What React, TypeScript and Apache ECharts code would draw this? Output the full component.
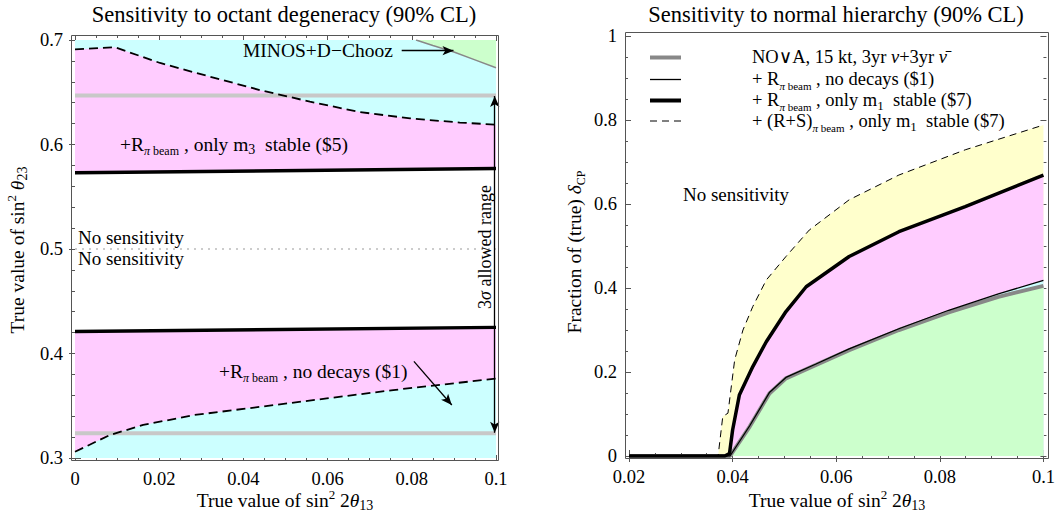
import React, { useEffect, useRef } from "react";
import * as echarts from "echarts";

// ---------- Left panel data: octant degeneracy ----------
const octUpperX = [0, 0.0095, 0.0202, 0.032, 0.044, 0.0558, 0.0677, 0.0796, 0.0914, 0.1];
const octUpperDashed = [0.691, 0.693, 0.678, 0.665, 0.652, 0.641, 0.631, 0.625, 0.621, 0.619];
const octLowerX = [0, 0.0083, 0.0162, 0.0281, 0.044, 0.0598, 0.0756, 0.1];
const octLowerDashed = [0.306, 0.322, 0.3316, 0.341, 0.349, 0.357, 0.365, 0.376];
const octLineX = [0, 0.1];
const octThickUpper = [0.573, 0.577];
const octThickLower = [0.421, 0.425];
const octGrayUpper = [0.647, 0.647];
const octGrayLower = [0.3236, 0.3236];
const octMaximal = [0.5, 0.5];
const octTop = [0.7, 0.7];
const minosX = [0.081, 0.085, 0.09, 0.095, 0.1];
const minosY = [0.7, 0.6948, 0.6885, 0.681, 0.6735];

// ---------- Right panel data: normal hierarchy ----------
const nhX = [0.02, 0.0395, 0.0433, 0.0471, 0.0503, 0.0561, 0.0625, 0.0721, 0.0817, 0.0913, 0.1];
const novaY = [0, 0, 0.07, 0.149, 0.185, 0.217, 0.252, 0.3, 0.342, 0.379, 0.405];
const noDecayY = [0, 0, 0.072, 0.151, 0.187, 0.219, 0.255, 0.303, 0.347, 0.386, 0.418];
const m1X = [0.02, 0.0385, 0.0394, 0.04, 0.0413, 0.0439, 0.0465, 0.0503, 0.0542, 0.0625, 0.0721, 0.0849, 0.1];
const m1Y = [0, 0, 0.006, 0.062, 0.145, 0.213, 0.272, 0.344, 0.403, 0.475, 0.534, 0.594, 0.669];
const rsX = [0.02, 0.0372, 0.0381, 0.0391, 0.0404, 0.042, 0.0439, 0.0465, 0.0503, 0.0548, 0.0625, 0.0721, 0.0849, 0.1];
const rsY = [0, 0, 0.094, 0.102, 0.229, 0.3, 0.356, 0.419, 0.475, 0.538, 0.61, 0.669, 0.729, 0.788];

const FONT = "'Liberation Serif', 'DejaVu Serif', serif";
const CYAN = "#ccffff";
const PINK = "#ffccff";
const GREEN = "#ccffcc";
const YELLOW = "#ffffcc";

const zip = (xs: number[], ys: number[]) => xs.map((x, i) => [x, ys[i]]);

const richBase = (fs: number) => {
  const lh = Math.round(fs * 1.3);
  const sl = Math.round(fs * 0.55);
  return {
    n: { fontFamily: FONT, fontSize: fs, color: "#000", lineHeight: lh },
    i: { fontFamily: FONT, fontSize: fs, fontStyle: "italic", color: "#000", lineHeight: lh },
    s: { fontFamily: FONT, fontSize: Math.round(fs * 0.62), color: "#000", lineHeight: sl, verticalAlign: "bottom" },
    si: { fontFamily: FONT, fontSize: Math.round(fs * 0.62), fontStyle: "italic", color: "#000", lineHeight: sl, verticalAlign: "bottom" },
    s2: { fontFamily: FONT, fontSize: Math.round(fs * 0.7), color: "#000", lineHeight: sl, verticalAlign: "bottom" },
    sup: { fontFamily: FONT, fontSize: Math.round(fs * 0.68), color: "#000", lineHeight: sl, verticalAlign: "top" },
  };
};

function txt(x: number, y: number, text: string, opts: any = {}) {
  const fs = opts.fs || 16;
  return {
    type: "text",
    x,
    y,
    rotation: opts.rotation || 0,
    z: 100,
    style: {
      text,
      rich: richBase(fs),
      font: `${fs}px ${FONT}`,
      fill: "#000",
      align: opts.align || "left",
      verticalAlign: "middle",
    },
  };
}

function area(xi: number, yi: number, data: number[][], color: string, origin: string, z: number) {
  return {
    type: "line",
    xAxisIndex: xi,
    yAxisIndex: yi,
    data,
    symbol: "none",
    z,
    silent: true,
    lineStyle: { width: 0, opacity: 0 },
    areaStyle: { color, opacity: 1, origin },
  };
}

function line(xi: number, yi: number, data: number[][], color: string, width: number, type: any, z: number, extra: any = {}) {
  return {
    type: "line",
    xAxisIndex: xi,
    yAxisIndex: yi,
    data,
    symbol: "none",
    z,
    silent: true,
    lineStyle: { color, width, type },
    ...extra,
  };
}

const tickColor = "#555";
function axisCommon(extra: any) {
  return {
    type: "value",
    axisLine: { show: false },
    splitLine: { show: false },
    axisTick: { show: true, inside: true, length: 6, lineStyle: { color: tickColor } },
    minorTick: { show: true, splitNumber: 4, length: 3, lineStyle: { color: tickColor } },
    axisLabel: { show: true, fontFamily: FONT, fontSize: 18.5, color: "#000", margin: 8 },
    ...extra,
  };
}

export default function App() {
  const ref = useRef<HTMLDivElement>(null);
  useEffect(() => {
    if (!ref.current) return;
    const chart = echarts.init(ref.current, undefined, { renderer: "svg" });
    const noLabel = { show: false };
    const arrowStyle = { color: "#000", width: 1.3, type: "solid" };
    const option: any = {
      animation: false,
      backgroundColor: "#fff",
      grid: [
        { left: 75, top: 40, width: 421, height: 418 },
        { left: 629, top: 36, width: 416, height: 420 },
      ],
      xAxis: [
        axisCommon({ gridIndex: 0, min: 0, max: 0.1, interval: 0.02, position: "bottom", offset: 3 }),
        axisCommon({ gridIndex: 0, min: 0, max: 0.1, interval: 0.02, position: "top", offset: 5, axisLabel: noLabel }),
        axisCommon({ gridIndex: 1, min: 0.02, max: 0.1, interval: 0.02, position: "bottom", offset: 3 }),
        axisCommon({ gridIndex: 1, min: 0.02, max: 0.1, interval: 0.02, position: "top", offset: 4, axisLabel: noLabel }),
      ],
      yAxis: [
        axisCommon({ gridIndex: 0, min: 0.3, max: 0.7, interval: 0.1, position: "left", offset: 4,
          minorTick: { show: true, splitNumber: 5, length: 3, lineStyle: { color: tickColor } } }),
        axisCommon({ gridIndex: 0, min: 0.3, max: 0.7, interval: 0.1, position: "right", offset: 3, axisLabel: noLabel,
          minorTick: { show: true, splitNumber: 5, length: 3, lineStyle: { color: tickColor } } }),
        axisCommon({ gridIndex: 1, min: 0, max: 1, interval: 0.2, position: "left", offset: 4 }),
        axisCommon({ gridIndex: 1, min: 0, max: 1, interval: 0.2, position: "right", offset: 3, axisLabel: noLabel }),
      ],
      series: [
        // ----- left panel -----
        area(0, 0, zip(octLineX, octTop), CYAN, "start", 1),
        area(0, 0, zip(octUpperX, octUpperDashed), PINK, "start", 2),
        area(0, 0, zip(octLineX, octThickUpper), "#ffffff", "start", 3),
        area(0, 0, zip(octLineX, octThickLower), PINK, "start", 4),
        area(0, 0, zip(octLowerX, octLowerDashed), CYAN, "start", 5),
        {
          ...line(0, 0, zip(minosX, minosY), "#888", 1.5, "solid", 6),
          areaStyle: { color: GREEN, opacity: 1, origin: "end" },
        },
        line(0, 0, zip(octLineX, octGrayUpper), "#c8c8c8", 4, "solid", 7),
        line(0, 0, zip(octLineX, octGrayLower), "#c8c8c8", 4, "solid", 7),
        line(0, 0, zip(octLineX, octThickUpper), "#000", 3.5, "solid", 8),
        line(0, 0, zip(octLineX, octThickLower), "#000", 3.5, "solid", 8),
        line(0, 0, zip(octUpperX, octUpperDashed), "#000", 1.8, [9, 5], 9),
        line(0, 0, zip(octLowerX, octLowerDashed), "#000", 1.8, [9, 5], 9),
        line(0, 0, zip(octLineX, octMaximal), "#999", 1, [2, 5], 9, {
          markLine: {
            silent: true,
            z: 30,
            symbol: ["none", "arrow"],
            symbolSize: [7, 11],
            label: { show: false },
            lineStyle: arrowStyle,
            data: [
              [{ coord: [0.0776, 0.6898] }, { coord: [0.0899, 0.6898] }],
              [{ coord: [0.0805, 0.3925] }, { coord: [0.0895, 0.3507] }],
              [{ coord: [0.0997, 0.6465], symbol: "arrow" }, { coord: [0.0997, 0.3242] }],
            ],
          },
        }),
        // ----- right panel -----
        area(2, 2, zip(rsX, rsY), YELLOW, "start", 1),
        area(2, 2, zip(m1X, m1Y), PINK, "start", 2),
        area(2, 2, zip(nhX, noDecayY), CYAN, "start", 3),
        area(2, 2, zip(nhX, novaY), GREEN, "start", 4),
        line(2, 2, zip(nhX, novaY), "#888", 4, "solid", 6),
        line(2, 2, zip(nhX, noDecayY), "#000", 1.3, "solid", 7),
        line(2, 2, zip(rsX, rsY), "#000", 1, [7, 5], 7),
        line(2, 2, zip(m1X, m1Y), "#000", 3.5, "solid", 8),
      ],
      graphic: [
        { type: "rect", z: 50, shape: { x: 71.5, y: 35.5, width: 427, height: 425 }, style: { fill: "none", stroke: "#555", lineWidth: 1 } },
        { type: "rect", z: 50, shape: { x: 625.5, y: 32.5, width: 423, height: 426 }, style: { fill: "none", stroke: "#555", lineWidth: 1 } },
        // titles
        txt(284, 14, "{n|Sensitivity to octant degeneracy (90% CL)}", { align: "center", fs: 22.5 }),
        txt(836, 14, "{n|Sensitivity to normal hierarchy (90% CL)}", { align: "center", fs: 22.5 }),
        // axis titles
        txt(285, 500, "{n|True value of sin}{sup|2}{n| 2}{i|θ}{s2|13}", { align: "center", fs: 19.5 }),
        txt(837, 500, "{n|True value of sin}{sup|2}{n| 2}{i|θ}{s2|13}", { align: "center", fs: 19.5 }),
        txt(17, 250, "{n|True value of sin}{sup|2}{n| }{i|θ}{s2|23}", { align: "center", fs: 19.5, rotation: Math.PI / 2 }),
        txt(574, 252, "{n|Fraction of (true) }{i|δ}{s|CP}", { align: "center", fs: 19.5, rotation: Math.PI / 2 }),
        // left annotations
        txt(243, 50, "{n|MINOS+D−Chooz}", { fs: 19.5 }),
        txt(120, 144, "{n|+R}{si|π}{s| beam}{n| , only m}{s2|3}{n|  stable ($5)}", { fs: 19.5 }),
        txt(78, 237, "{n|No sensitivity}", { fs: 19 }),
        txt(78, 258, "{n|No sensitivity}", { fs: 19 }),
        txt(219, 371, "{n|+R}{si|π}{s| beam}{n| , no decays ($1)}", { fs: 19.5 }),
        txt(485, 247, "{n|3}{i|σ}{n| allowed range}", { align: "center", fs: 18, rotation: Math.PI / 2 }),
        // right annotations
        txt(683, 194, "{n|No sensitivity}", { fs: 19 }),
        // legend
        { type: "line", z: 60, shape: { x1: 650, y1: 57.5, x2: 681, y2: 57.5 }, style: { stroke: "#888", lineWidth: 4 } },
        { type: "line", z: 60, shape: { x1: 650, y1: 79.5, x2: 681, y2: 79.5 }, style: { stroke: "#000", lineWidth: 1.3 } },
        { type: "line", z: 60, shape: { x1: 650, y1: 100.5, x2: 681, y2: 100.5 }, style: { stroke: "#000", lineWidth: 4 } },
        { type: "line", z: 60, shape: { x1: 650, y1: 121, x2: 681, y2: 121 }, style: { stroke: "#000", lineWidth: 1, lineDash: [7, 5] } },
        txt(752, 57, "{n|NO∨A, 15 kt, 3yr }{i|ν}{n|+3yr }{i|ν̄}", { fs: 18.5 }),
        txt(752, 79, "{n|+ R}{si|π}{s| beam}{n| , no decays ($1)}", { fs: 18.5 }),
        txt(752, 100, "{n|+ R}{si|π}{s| beam}{n| , only m}{s2|1}{n|  stable ($7)}", { fs: 18.5 }),
        txt(752, 121, "{n|+ (R+S)}{si|π}{s| beam}{n| , only m}{s2|1}{n|  stable ($7)}", { fs: 18.5 }),
      ],
    };
    chart.setOption(option);
    return () => chart.dispose();
  }, []);
  return <div ref={ref} style={{ position: "fixed", left: 0, top: 0, width: 1058, height: 515 }} />;
}
